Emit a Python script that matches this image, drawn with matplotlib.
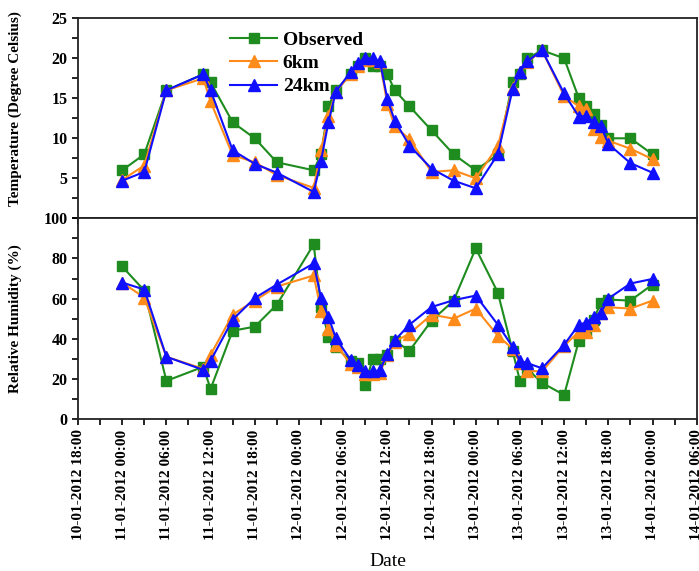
import matplotlib
matplotlib.use("Agg")
import matplotlib.pyplot as plt
import matplotlib.dates as mdates
from matplotlib.ticker import MultipleLocator, FuncFormatter
import pandas as pd

plt.rcParams['font.family'] = ['Liberation Serif', 'DejaVu Serif']

# Observation times
times = pd.to_datetime([
    "2012-01-11 00:00", "2012-01-11 03:00", "2012-01-11 06:00", "2012-01-11 11:00",
    "2012-01-11 12:00", "2012-01-11 15:00", "2012-01-11 18:00", "2012-01-11 21:00",
    "2012-01-12 02:00", "2012-01-12 03:00", "2012-01-12 04:00", "2012-01-12 05:00",
    "2012-01-12 07:00", "2012-01-12 08:00", "2012-01-12 09:00", "2012-01-12 10:00",
    "2012-01-12 11:00", "2012-01-12 12:00", "2012-01-12 13:00", "2012-01-12 15:00",
    "2012-01-12 18:00", "2012-01-12 21:00", "2012-01-13 00:00", "2012-01-13 03:00",
    "2012-01-13 05:00", "2012-01-13 06:00", "2012-01-13 07:00", "2012-01-13 09:00",
    "2012-01-13 12:00", "2012-01-13 14:00", "2012-01-13 15:00", "2012-01-13 16:00",
    "2012-01-13 17:00", "2012-01-13 18:00", "2012-01-13 21:00", "2012-01-14 00:00",
])

temp_obs = [6, 8, 16, 18, 17, 12, 10, 7, 6, 8, 14, 16, 18, 19, 20, 19, 19, 18, 16, 14,
            11, 8, 6, 8, 17, 18, 20, 21, 20, 15, 14, 13, 11.7, 10, 10, 8]
temp_6km = [4.8, 6.6, 16, 17.5, 14.6, 7.9, 7.0, 5.4, 3.8, 8.5, 12.8, 15.8, 18, 19, 19.8, 19.8,
            19.5, 14.3, 11.5, 9.9, 5.8, 6.0, 5.0, 9.0, 16.3, 18.3, 19.5, 21, 15.3, 14.0, 13.7,
            11.2, 10.2, 9.7, 8.7, 7.4]
temp_24km = [4.7, 5.8, 16, 18, 16, 8.5, 6.8, 5.7, 3.3, 7.2, 12, 15.8, 18.3, 19.4, 20, 20,
             19.6, 14.9, 12.2, 9.1, 6.2, 4.7, 3.75, 8.0, 16.1, 18.3, 19.6, 21, 15.6, 12.7, 12.8,
             12, 11.5, 9.3, 6.9, 5.7]

rh_obs = [76, 64, 19, 26, 15, 44, 46, 57, 87, 56, 41, 36, 29, 28, 17, 30, 30, 32, 39, 34,
          49, 59, 85, 63, 34, 19, 25, 18, 12, 39, 44, 49.5, 58, 59.5, 59, 67]
rh_6km = [68, 60.5, 31, 25, 32, 52, 59, 66, 71.5, 54, 45, 37, 27.5, 26, 22.5, 22.5, 23, 32,
          38.6, 42.5, 52, 50, 55, 41.5, 35, 28, 24, 23.7, 36.5, 43.5, 43.5, 47, 53, 55.7, 55, 59]
rh_24km = [68, 64.5, 31, 24.5, 29, 49.5, 60.3, 67, 77.5, 60.3, 51, 40.3, 29.5, 27, 23.7, 23.7,
           24.2, 32.5, 39.2, 47, 55.8, 59.2, 61.5, 47, 36, 29, 27.8, 25.3, 37, 47, 48, 51, 53,
           60, 67.5, 69.8]

series_labels = ["Observed", "6km", "24km"]
colors = ["#1e8c1e", "#ff8c1a", "#1010ff"]
markers = ["s", "^", "^"]
msizes = [6.5, 8, 8.5]

W, H = 699, 571
fig = plt.figure(figsize=(W / 100, H / 100), dpi=100)
left = 78 / W
right = 696.7 / W
ax1 = fig.add_axes([left, 1 - 218.3 / H, right - left, 200 / H])
ax2 = fig.add_axes([left, 1 - 419 / H, right - left, 200.7 / H], sharex=ax1)

for ax, data in ((ax1, (temp_obs, temp_6km, temp_24km)), (ax2, (rh_obs, rh_6km, rh_24km))):
    for vals, lab, c, m, ms in zip(data, series_labels, colors, markers, msizes):
        ax.plot(times, vals, color=c, marker=m, markersize=ms, linewidth=1.5, label=lab,
                markeredgecolor=c)

ax1.set_ylim(0, 25)
ax2.set_ylim(0, 100)
ax1.yaxis.set_major_locator(MultipleLocator(5))
ax1.yaxis.set_minor_locator(MultipleLocator(2.5))
ax1.yaxis.set_major_formatter(FuncFormatter(lambda v, p: "" if abs(v) < 1e-9 else f"{v:.0f}"))
ax2.yaxis.set_major_locator(MultipleLocator(20))
ax2.yaxis.set_minor_locator(MultipleLocator(10))

ax2.set_xlim(pd.Timestamp("2012-01-10 18:00"), pd.Timestamp("2012-01-14 06:00"))
ax2.xaxis.set_major_locator(mdates.HourLocator(byhour=[0, 6, 12, 18]))
ax2.xaxis.set_minor_locator(mdates.HourLocator(byhour=[3, 9, 15, 21]))
ax2.xaxis.set_major_formatter(mdates.DateFormatter("%d-%m-%Y %H:%M"))
plt.setp(ax1.get_xticklabels(), visible=False)

for ax in (ax1, ax2):
    ax.tick_params(axis="both", which="major", direction="out", length=4, width=1.2,
                   labelsize=11.5, top=False, right=False)
    ax.tick_params(axis="both", which="minor", direction="out", length=4, width=1.2,
                   top=False, right=False)
    for lbl in ax.get_yticklabels() + ax.get_xticklabels():
        lbl.set_fontweight("bold")
    for sp in ax.spines.values():
        sp.set_linewidth(1.3)
        sp.set_color("#222222")

for lbl in ax2.get_xticklabels():
    lbl.set_rotation(90)
    lbl.set_fontsize(11)

ax1.set_ylabel("Temperature (Degree Celsius)", fontsize=11, fontweight="bold")
ax2.set_ylabel("Relative Humidity (%)", fontsize=11, fontweight="bold")
ax1.yaxis.set_label_coords(-0.09, 0.55)
ax2.yaxis.set_label_coords(-0.09, 0.5)
ax2.set_xlabel("Date", fontsize=14)
ax2.xaxis.set_label_coords(0.5, -0.67)

leg = ax1.legend(loc="upper left", bbox_to_anchor=(0.224, 1.005), frameon=False,
                 prop={"weight": "bold", "size": 14}, handlelength=2.4,
                 handletextpad=0.3, labelspacing=0.3, borderpad=0.2)

fig.savefig("out.png", dpi=100)
